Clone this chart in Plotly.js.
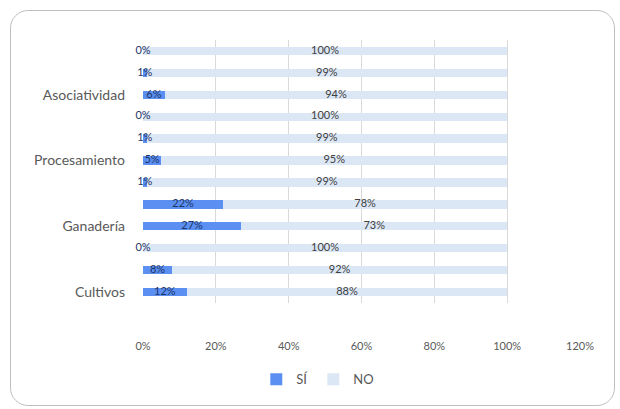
<!DOCTYPE html>
<html>
<head>
<meta charset="utf-8">
<script src="https://cdn.plot.ly/plotly-3.0.1.min.js"></script>
<style>
html,body{margin:0;padding:0;background:#fff;}
#wrap{position:relative;width:620px;height:409px;overflow:hidden;}
#chart{width:620px;height:409px;}
#frame{position:absolute;left:10px;top:10px;width:605px;height:396px;border:1.5px solid #bfbfbf;border-radius:18px;pointer-events:none;box-sizing:border-box;}
</style>
</head>
<body>
<div id="wrap"><div id="chart"></div><div id="frame"></div></div>
<script>
// rows from bottom to top; whitespace-only names are unlabeled rows
const rows = ['Cultivos', ' ', '  ', 'Ganadería', '   ', '    ', 'Procesamiento', '     ', '      ', 'Asociatividad', '       ', '        '];
const si = [0.12, 0.08, 0.00, 0.27, 0.22, 0.01, 0.05, 0.01, 0.00, 0.06, 0.01, 0.00];
const no = [0.88, 0.92, 1.00, 0.73, 0.78, 0.99, 0.95, 0.99, 1.00, 0.94, 0.99, 1.00];
const xTicks = [0, 0.2, 0.4, 0.6, 0.8, 1.0, 1.2];

const pct = v => Math.round(v * 100) + '%';
const siColor = '#5b8ff2';
const noColor = '#dce7f5';

const traces = [
  {type:'bar', orientation:'h', name:'SÍ', y:rows, x:si, marker:{color:siColor}, hoverinfo:'skip'},
  {type:'bar', orientation:'h', name:'NO', y:rows, x:no, marker:{color:noColor}, hoverinfo:'skip'},
  {type:'scatter', mode:'text', y:rows, x:si.map(v => v/2), text:si.map(pct), showlegend:false,
   textfont:{family:'Lato, sans-serif', size:11, color:'#1f3566'}, hoverinfo:'skip', cliponaxis:false},
  {type:'scatter', mode:'text', y:rows, x:si.map((v,i) => v + no[i]/2), text:no.map(pct), showlegend:false,
   textfont:{family:'Lato, sans-serif', size:11, color:'#404040'}, hoverinfo:'skip', cliponaxis:false}
];

const layout = {
  width:620, height:409,
  paper_bgcolor:'rgba(0,0,0,0)', plot_bgcolor:'rgba(0,0,0,0)',
  margin:{l:143, r:40, t:40, b:106},
  barmode:'stack', bargap:0.62,
  font:{family:'Lato, sans-serif', color:'#595959'},
  xaxis:{range:[0,1.2], tickvals:xTicks, ticktext:xTicks.map(pct), showgrid:true, gridcolor:'#d9d9d9', gridwidth:1,
         zeroline:false, showline:false, ticks:'', tickfont:{size:11, color:'#595959'}, ticklabelstandoff:35, fixedrange:true},
  yaxis:{type:'category', categoryorder:'array', categoryarray:rows, range:[-0.5, 11.5], showgrid:false, zeroline:false,
         showline:false, ticks:'', tickfont:{size:14, color:'#595959'}, ticklabelstandoff:17, fixedrange:true},
  showlegend:true,
  legend:{orientation:'h', x:0.40, xanchor:'center', y:-0.29, yanchor:'middle', font:{size:13, color:'#595959'},
          itemwidth:30, traceorder:'normal'}
};

Plotly.newPlot('chart', traces, layout, {displayModeBar:false, staticPlot:true});
</script>
</body>
</html>
